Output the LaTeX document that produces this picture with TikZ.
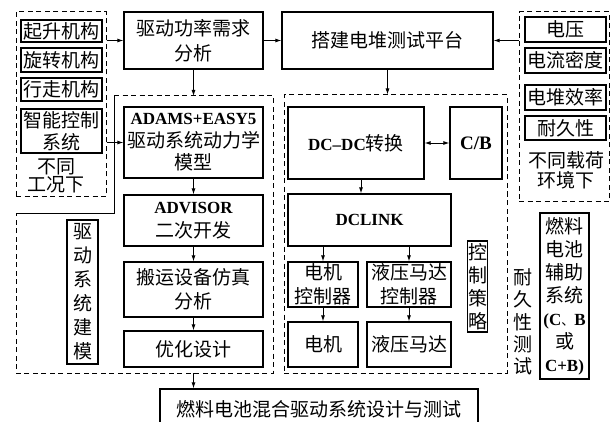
\documentclass[tikz,border=0pt]{standalone}
\usepackage{fontspec}
\setmainfont{Liberation Serif}
\newfontfamily\cjk{Noto Sans CJK SC}
\usetikzlibrary{arrows.meta,calc}
\newcommand\latx[1]{{\rmfamily\bfseries\fontsize{17}{20}\selectfont #1}}
\begin{document}
\begin{tikzpicture}[x=1pt,y=-1pt,
  font=\cjk\fontsize{19}{23}\selectfont,
  box/.style={draw, line width=1.2pt, inner sep=0pt, align=center},
  dsh/.style={draw, line width=1pt, dash pattern=on 5pt off 3.5pt, inner sep=0pt},
  txt/.style={inner sep=0pt, align=center},
  arr/.style={line width=0.9pt, -{Latex[length=6pt,width=4pt]}},
  bs/.style={font=\cjk\fontsize{19}{#1}\selectfont},
]
\useasboundingbox (0,0) rectangle (610,422);

% left condition group
\node[dsh, minimum width=90, minimum height=185] (conds) at (61,104.5) {};
\node[box, minimum width=81, minimum height=22] (q1) at (61.5,31) {起升机构};
\node[box, minimum width=81, minimum height=24] (q2) at (61.5,60) {旋转机构};
\node[box, minimum width=81, minimum height=23] (q3) at (61.5,89.5) {行走机构};
\node[box, minimum width=81, minimum height=44, bs=22] (q4) at (61.5,131) {智能控制\\系统};
\node[txt, bs=18.5] (qt) at (56,176) {不同\\工况下};

% top row
\node[box, minimum width=139, minimum height=57, bs=25] (power) at (193.5,40.5) {驱动功率需求\\分析};
\node[box, minimum width=211, minimum height=57] (testbed) at (387.5,40.5) {搭建电堆测试平台};

% right condition group
\node[dsh, minimum width=90, minimum height=190] (rconds) at (564,107) {};
\node[box, minimum width=81, minimum height=25] (r1) at (565.5,29.5) {电压};
\node[box, minimum width=81, minimum height=25] (r2) at (565.5,60.5) {电流密度};
\node[box, minimum width=81, minimum height=25] (r3) at (565.5,97.5) {电堆效率};
\node[box, minimum width=81, minimum height=24] (r4) at (565.5,128) {耐久性};
\node[txt, bs=20] (rt) at (566,170) {不同载荷\\环境下};

% modelling group
\draw[line width=1pt, dash pattern=on 5pt off 3.5pt] (114,96) -- (273,96) -- (273,373) -- (16,373) -- (16,213);
\draw[line width=1pt] (16,213) -- (114,213) -- (114,96);
\coordinate (mtop) at (193.5,96);
\coordinate (mbot) at (193.5,373);
\node[box, minimum width=139, minimum height=71, bs=22.5] (adams) at (193.5,142.5) {\latx{ADAMS+EASY5}\\驱动系统动力学\\模型};
\node[box, minimum width=139, minimum height=51, bs=24] (advisor) at (193.5,220.5) {\latx{ADVISOR}\\二次开发};
\node[box, minimum width=139, minimum height=55, bs=24] (sim) at (193.5,289.5) {搬运设备仿真\\分析};
\node[box, minimum width=139, minimum height=36] (opt) at (193.5,349) {优化设计};
\node[box, minimum width=31, minimum height=144, bs=24] (mlabel) at (82.5,292) {驱\\动\\系\\统\\建\\模};

% control group
\node[dsh, minimum width=223, minimum height=278] (ctrl) at (395.5,234) {};
\node[box, minimum width=136, minimum height=72] (dcdc) at (356,143) {\latx{DC–DC}转换};
\node[box, minimum width=52, minimum height=72] (cb) at (476,143) {{\rmfamily\bfseries\fontsize{19}{22}\selectfont C/B}};
\node[box, minimum width=163, minimum height=52] (dclink) at (369.5,220) {\latx{DCLINK}};
\node[box, minimum width=70, minimum height=45, bs=24] (mctl) at (323,284.5) {电机\\控制器};
\node[box, minimum width=84, minimum height=45, bs=24] (hctl) at (409,284.5) {液压马达\\控制器};
\node[box, minimum width=70, minimum height=45] (motor) at (323,344.5) {电机};
\node[box, minimum width=84, minimum height=45] (hyd) at (409,344.5) {液压马达};
\node[box, minimum width=20, minimum height=91, bs=23] (strat) at (477.5,286.5) {控\\制\\策\\略};

% durability
\node[txt, bs=22.3] (dur) at (523,322) {耐\\久\\性\\测\\试};
\node[box, minimum width=49, minimum height=166, bs=23] (aux) at (564.5,296) {燃料\\电池\\辅助\\系统\\\latx{(C}{\fontsize{13}{13}\selectfont 、}\latx{B}\\或\\\latx{C+B)}};

% final
\node[box, minimum width=318, minimum height=41] (final) at (319,409.5) {燃料电池混合驱动系统设计与测试};

% connectors
\draw[arr] (conds.east |- power.west) -- (power.west);
\draw[arr] (power.east) -- (testbed.west);
\draw[arr] (rconds.west |- testbed.east) -- (testbed.east);
\draw[arr] (power.south) -- (mtop);
\draw[arr] (conds.east |- adams.west) -- (adams.west);
\draw[arr] (adams.south) -- (advisor.north);
\draw[arr] (advisor.south) -- (sim.north);
\draw[arr] (sim.south) -- (opt.north);
\draw[arr] (mbot) -- (mbot |- final.north);
\draw[arr] (testbed.south) -- (testbed.south |- ctrl.north);
\draw[arr] ($(dcdc.south)+(5,0)$) coordinate (dd) -- (dd |- dclink.north);
\draw[arr] (mctl.north |- dclink.south) -- (mctl.north);
\draw[arr] (hctl.north |- dclink.south) -- (hctl.north);
\draw[arr] (mctl.south) -- (motor.north);
\draw[arr] (hctl.south) -- (hyd.north);
\draw[line width=0.9pt, {Latex[length=6pt,width=4pt]}-{Latex[length=6pt,width=4pt]}] (dcdc.east) -- (cb.west);
\end{tikzpicture}
\end{document}
